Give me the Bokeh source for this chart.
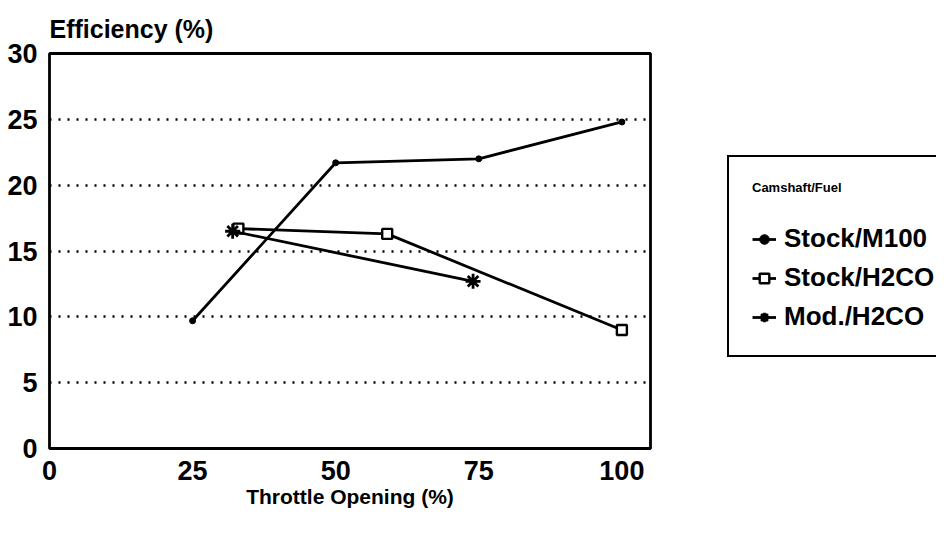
from bokeh.plotting import figure
from bokeh.layouts import row
from bokeh.models import Range1d, Legend, LegendItem, FixedTicker
from bokeh.embed import file_html
from bokeh.resources import INLINE

# Data
throttle_m100 = [25, 50, 75, 100]
eff_m100 = [9.7, 21.7, 22.0, 24.8]
throttle_stock_h2co = [33, 59, 100]
eff_stock_h2co = [16.7, 16.3, 9.0]
throttle_mod_h2co = [32, 74]
eff_mod_h2co = [16.5, 12.7]
x_ticks = [0, 25, 50, 75, 100]
y_ticks = [0, 5, 10, 15, 20, 25, 30]
grid_ticks = [5, 10, 15, 20, 25]
series_names = ["Stock/M100", "Stock/H2CO", "Mod./H2CO"]
legend_title = "Camshaft/Fuel"

FONT = "Liberation Sans"

p = figure(width=700, height=519, output_backend="svg", toolbar_location=None,
           x_range=Range1d(0, 105), y_range=Range1d(0, 30),
           min_border_left=49, min_border_right=50, min_border_top=53, min_border_bottom=71)

p.title.text = "Efficiency (%)"
p.title.align = "left"
p.title.text_font = FONT
p.title.text_font_size = "25px"
p.title.text_font_style = "bold"
p.title.text_color = "black"
p.title.standoff = 22

p.outline_line_color = "black"
p.outline_line_width = 2.8
p.outline_line_alpha = 1

p.xgrid.visible = False
p.ygrid.ticker = FixedTicker(ticks=grid_ticks)
p.ygrid.grid_line_color = "black"
p.ygrid.grid_line_width = 2.4
p.ygrid.grid_line_dash = "2 7"

p.xaxis.ticker = FixedTicker(ticks=x_ticks)
p.yaxis.ticker = FixedTicker(ticks=y_ticks)
for ax in (p.xaxis[0], p.yaxis[0]):
    ax.axis_line_color = None
    ax.major_tick_line_color = None
    ax.minor_tick_line_color = None
    ax.major_label_text_font = FONT
    ax.major_label_text_font_style = "bold"
    ax.major_label_text_font_size = "27px"
    ax.major_label_text_color = "black"
    ax.major_label_standoff = 6

p.xaxis.axis_label = "Throttle Opening (%)"
p.xaxis.axis_label_text_font = FONT
p.xaxis.axis_label_text_font_style = "bold"
p.xaxis.axis_label_text_font_size = "21px"
p.xaxis.axis_label_text_color = "black"
p.xaxis.axis_label_standoff = 2

lw = 2.8
m100_style = dict(marker="circle", size=6, fill_color="black", line_color="black")
h2co_style = dict(marker="square", size=10, fill_color="white", line_color="black", line_width=2.4)
mod_style = dict(marker="asterisk", size=15, line_color="black", line_width=2.8)

p.line(throttle_m100, eff_m100, line_color="black", line_width=lw)
p.scatter(throttle_m100, eff_m100, **m100_style)
p.line(throttle_stock_h2co, eff_stock_h2co, line_color="black", line_width=lw)
p.scatter(throttle_stock_h2co, eff_stock_h2co, **h2co_style)
p.line(throttle_mod_h2co, eff_mod_h2co, line_color="black", line_width=lw)
p.scatter(throttle_mod_h2co, eff_mod_h2co, **mod_style)

# Legend panel (separate canvas to the right of the chart); its renderers hold
# the same series but lie outside this canvas's ranges, so only the legend shows.
q = figure(width=236, height=519, output_backend="svg", toolbar_location=None,
           x_range=Range1d(-2, -1), y_range=Range1d(-2, -1),
           min_border_left=0, min_border_right=0, min_border_top=0, min_border_bottom=0)
q.axis.visible = False
q.grid.visible = False
q.outline_line_color = None

series = [(throttle_m100, eff_m100, m100_style),
          (throttle_stock_h2co, eff_stock_h2co, h2co_style),
          (throttle_mod_h2co, eff_mod_h2co, mod_style)]
items = []
for name, (xs, ys, st) in zip(series_names, series):
    lr = q.line(xs, ys, line_color="black", line_width=lw)
    sr = q.scatter(xs, ys, **st)
    items.append(LegendItem(label=name, renderers=[lr, sr]))

legend = Legend(items=items, location=(27, 91))
legend.title = legend_title
legend.title_text_font = FONT
legend.title_text_font_style = "bold"
legend.title_text_font_size = "13px"
legend.title_text_color = "black"
legend.title_standoff = 28
legend.label_text_font = FONT
legend.label_text_font_style = "bold"
legend.label_text_font_size = "26px"
legend.label_text_color = "black"
legend.label_height = 30
legend.glyph_height = 30
legend.glyph_width = 24
legend.label_standoff = 8
legend.spacing = 8
legend.padding = 23
legend.margin = 0
legend.border_line_color = "black"
legend.border_line_width = 2.8
legend.border_line_alpha = 1
legend.background_fill_color = "white"
legend.background_fill_alpha = 1
q.add_layout(legend, "center")

layout = row(p, q)
open("out.html", "w").write(file_html(layout, INLINE))
